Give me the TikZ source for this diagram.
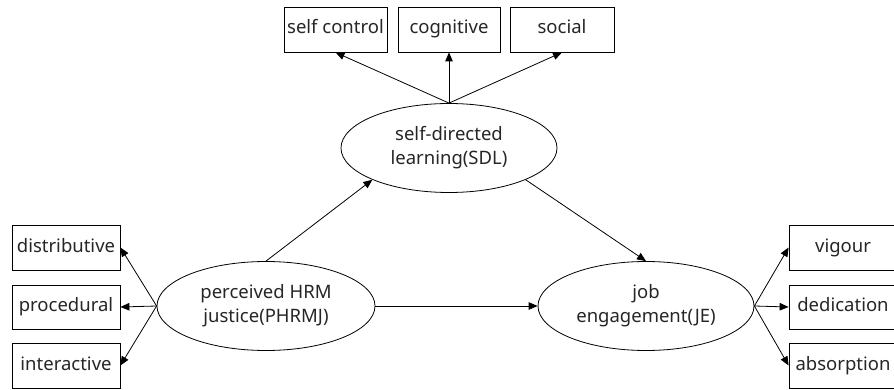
\documentclass[tikz,border=0pt]{standalone}
\usepackage{fontspec}
\setmainfont{Noto Sans}
\usetikzlibrary{shapes.geometric,arrows.meta}
\begin{document}
\begin{tikzpicture}[x=1pt,y=-1pt,
  every node/.style={font=\fontsize{18.5}{24}\selectfont, text=black!85},
  box/.style={draw, line width=0.8pt, minimum height=45pt, inner sep=0pt, text height=13pt, text depth=4pt},
  latent/.style={draw, ellipse, line width=0.8pt, minimum width=216pt, minimum height=89pt, inner sep=0pt, align=center},
  conn/.style={line width=0.8pt, -{Triangle[length=9pt,width=7.5pt]}}]
\useasboundingbox (0,0) rectangle (894,390);
\begin{scope}
\clip (0,0) rectangle (894,390);
% top indicators
\node[box, minimum width=103pt] (sc) at (335.5,29.5) {self control};
\node[box, minimum width=102pt] (cog) at (449,29.5) {cognitive};
\node[box, minimum width=104pt] (soc) at (562,29.5) {social};
% left indicators
\node[box, minimum width=108pt] (dis) at (66,247.5) {distributive};
\node[box, minimum width=108pt, minimum height=44pt] (pro) at (66,307) {procedural};
\node[box, minimum width=108pt] (int) at (66,365.5) {interactive};
% right indicators
\node[box, minimum width=108pt] (vig) at (843,247.5) {vigour};
\node[box, minimum width=108pt, minimum height=44pt] (ded) at (843,307) {dedication};
\node[box, minimum width=108pt] (abs) at (843,365.5) {absorption};
% latent variables
\node[latent] (sdl) at (449,148) {self-directed\\learning(SDL)};
\node[latent, minimum width=218pt] (phr) at (266,306) {perceived HRM\\justice(PHRMJ)};
\node[latent] (je) at (646,306) {job\\engagement(JE)};
% connectors
\draw[conn] (sdl.north) -- (sc.south);
\draw[conn] (sdl.north) -- (cog.south);
\draw[conn] (sdl.north) -- (soc.south);
\draw[conn] (phr.west) -- (dis.east);
\draw[conn] (phr.west) -- (pro.east);
\draw[conn] (phr.west) -- (int.east);
\draw[conn] (je.east) -- (vig.west);
\draw[conn] (je.east) -- (ded.west);
\draw[conn] (je.east) -- (abs.west);
\draw[conn] (phr.north) -- (sdl.south west);
\draw[conn] (sdl.south east) -- (je.north);
\draw[conn] (phr.east) -- (je.west);
\end{scope}
\end{tikzpicture}
\end{document}
